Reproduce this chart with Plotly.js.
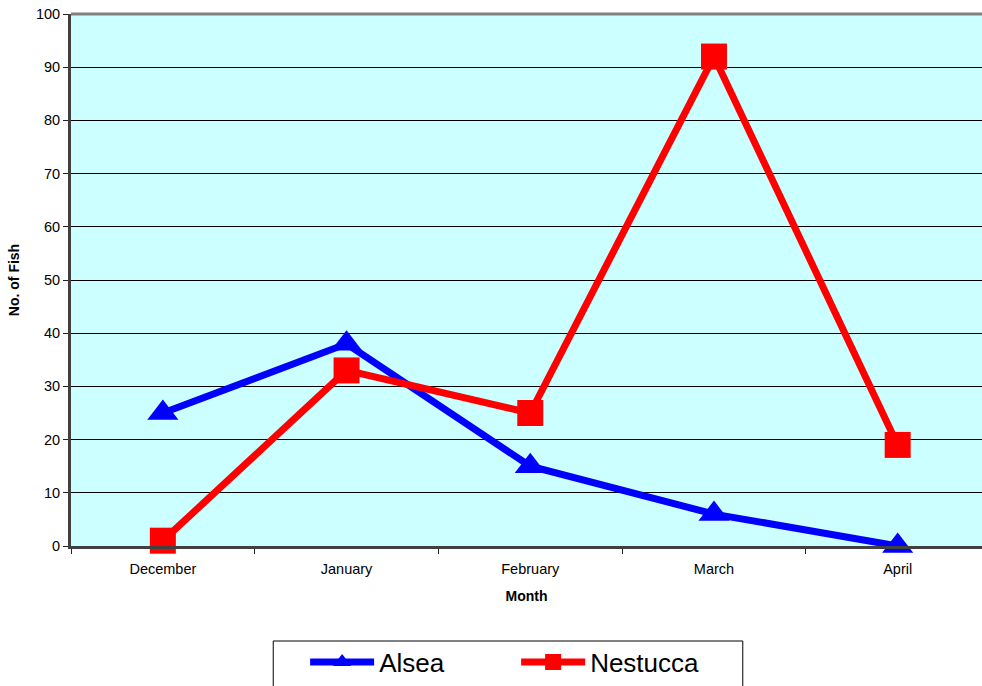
<!DOCTYPE html>
<html>
<head>
<meta charset="utf-8">
<script src="https://cdn.plot.ly/plotly-3.0.1.min.js"></script>
<style>html,body{margin:0;padding:0;background:#fff;}#chart{width:982px;height:686px;}</style>
</head>
<body>
<div id="chart"></div>
<script>
var months = ["December", "January", "February", "March", "April"];
var alsea = [25, 38, 15, 6, 0];
var nestucca = [1, 33, 25, 92, 19];
var yTicks = [0, 10, 20, 30, 40, 50, 60, 70, 80, 90, 100];

var FONT = "Liberation Sans, Arial, sans-serif";

var traces = [
  {
    x: months, y: alsea, name: "Alsea", type: "scatter", mode: "lines+markers",
    line: {color: "#0000FF", width: 7},
    marker: {symbol: "triangle-up", size: 27, color: "#0000FF"},
    cliponaxis: false
  },
  {
    x: months, y: nestucca, name: "Nestucca", type: "scatter", mode: "lines+markers",
    line: {color: "#FF0000", width: 7},
    marker: {symbol: "square", size: 26, color: "#FF0000"},
    cliponaxis: false
  }
];

var layout = {
  width: 982, height: 686,
  margin: {l: 71, r: 0, t: 14, b: 140},
  paper_bgcolor: "#FFFFFF",
  plot_bgcolor: "#CCFFFF",
  font: {family: FONT, color: "#000000", size: 14.5},
  showlegend: true,
  legend: {
    orientation: "h", x: 0.257, y: -0.218, xanchor: "left", yanchor: "middle",
    font: {size: 26, family: FONT},
    itemwidth: 64, bgcolor: "rgba(0,0,0,0)", borderwidth: 0,
    tracegroupgap: 0, entrywidth: 132, entrywidthmode: "pixels"
  },
  xaxis: {
    type: "category", tickson: "boundaries", ticks: "outside", ticklen: 5, tickcolor: "#222222",
    showline: true, linecolor: "#404040", linewidth: 3, showgrid: false, zeroline: false,
    range: [-0.5, 4.459], fixedrange: true,
    ticklabelstandoff: 8,
    title: {text: "Month", font: {size: 14, family: FONT, weight: "bold"}, standoff: 15},
    tickfont: {size: 14.5}
  },
  yaxis: {
    range: [0, 100], tickvals: yTicks, ticktext: yTicks.map(String),
    ticks: "outside", ticklen: 5, tickcolor: "#222222",
    showline: true, linecolor: "#404040", linewidth: 3,
    showgrid: true, gridcolor: "#000000", gridwidth: 1, zeroline: false,
    title: {text: "No. of Fish", font: {size: 14, family: FONT, weight: "bold"}, standoff: 13},
    tickfont: {size: 14.5}
  },
  shapes: [
    {type: "line", xref: "paper", yref: "paper", x0: 0, x1: 1, y0: 1, y1: 1,
     line: {color: "#808080", width: 3}, layer: "above"},
    {type: "rect", xref: "paper", yref: "paper", x0: 0.222, x1: 0.7374, y0: -0.1786, y1: -0.30,
     line: {color: "#000000", width: 1}, fillcolor: "rgba(0,0,0,0)"}
  ]
};

Plotly.newPlot("chart", traces, layout, {displayModeBar: false, staticPlot: true});
</script>
</body>
</html>
